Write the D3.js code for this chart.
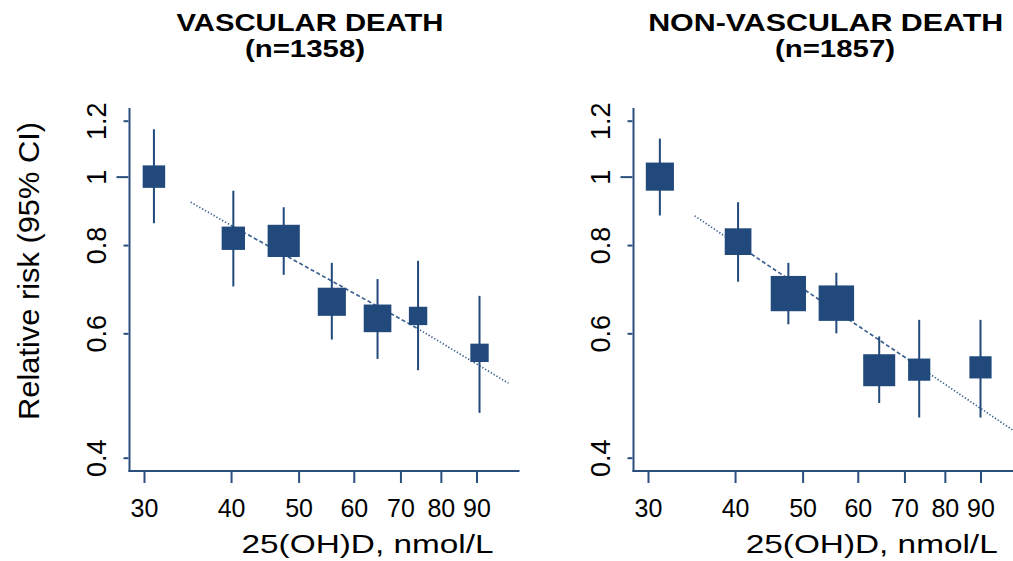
<!DOCTYPE html>
<html>
<head>
<meta charset="utf-8">
<script src="https://cdn.jsdelivr.net/npm/d3@7"></script>
<style>
  body { margin: 0; background: #fff; }
  svg { display: block; }
</style>
</head>
<body>
<div id="chart"></div>
<script>
// 25(OH)D groups vs relative risk, two panels
const xTicks = [30, 40, 50, 60, 70, 80, 90];
const yTicks = [0.4, 0.6, 0.8, 1, 1.2];

// vascular death
const vascDose = [31, 40.3, 47.6, 55.8, 64.9, 74.2, 90.9];
const vascRR = [1.0, 0.818, 0.811, 0.665, 0.630, 0.635, 0.563];
const vascLo = [0.859, 0.699, 0.726, 0.588, 0.552, 0.532, 0.463];
const vascHi = [1.167, 0.955, 0.905, 0.755, 0.716, 0.760, 0.678];
const vascWeight = [39, 42, 80, 61, 59, 26, 26];
const vascTrendX = [35, 40, 74, 100];
const vascTrendY = [0.92, 0.853, 0.61, 0.51];

// non-vascular death
const nonvDose = [31.2, 40.4, 47.7, 55.9, 64.4, 73.5, 90];
const nonvRR = [1.0, 0.809, 0.683, 0.662, 0.532, 0.533, 0.537];
const nonvLo = [0.881, 0.710, 0.618, 0.600, 0.478, 0.456, 0.456];
const nonvHi = [1.132, 0.920, 0.755, 0.731, 0.594, 0.627, 0.627];
const nonvWeight = [61, 55, 96, 97, 79, 38, 38];
const nonvTrendX = [35, 40, 76, 100];
const nonvTrendY = [0.88, 0.805, 0.526, 0.438];

const width = 1013;
const height = 561;
const blue = "#21497c";
const axisBlue = "#2a4e7d";
const tickFont = "'Liberation Sans', Arial, sans-serif";

const svg = d3.select("#chart")
  .append("svg")
  .attr("width", width)
  .attr("height", height);

const yScale = d3.scaleLog().domain([0.4, 1.2]).range([457.7, 120.7]);
const sizeScale = d3.scaleSqrt().domain([0, 100]).range([0, 36]);
const axisY = 471;

function drawPanel(p) {
  const x0 = p.x0;
  const xScale = d3.scaleLog().domain([30, 90]).range([x0 + 14.5, x0 + 347]);
  const g = svg.append("g");

  // axis lines
  g.append("line")
    .attr("x1", x0).attr("x2", x0)
    .attr("y1", 108).attr("y2", axisY + 1)
    .attr("stroke", axisBlue).attr("stroke-width", 2);
  g.append("line")
    .attr("x1", x0 - 1).attr("x2", x0 + 390)
    .attr("y1", axisY).attr("y2", axisY)
    .attr("stroke", axisBlue).attr("stroke-width", 2);

  // x axis ticks
  const xAxis = d3.axisBottom(xScale)
    .tickValues(xTicks)
    .tickFormat(d3.format("d"))
    .tickSize(11);
  const gx = g.append("g")
    .attr("transform", `translate(0, ${axisY + 1})`)
    .call(xAxis);
  gx.select(".domain").remove();
  gx.selectAll(".tick line").attr("stroke", axisBlue).attr("stroke-width", 2);
  gx.selectAll(".tick text")
    .attr("y", 44.7)
    .attr("dy", 0)
    .attr("fill", "#000")
    .style("font-family", tickFont)
    .style("font-size", "25px");

  // y axis ticks
  const yAxis = d3.axisLeft(yScale)
    .tickValues(yTicks)
    .tickFormat(d => d)
    .tickSize(5);
  const gy = g.append("g")
    .attr("transform", `translate(${x0 - 1}, 0)`)
    .call(yAxis);
  gy.select(".domain").remove();
  gy.selectAll(".tick line")
    .attr("x2", d => d === 1 ? -12 : -5)
    .attr("stroke", axisBlue).attr("stroke-width", 2);
  gy.selectAll(".tick text")
    .attr("x", 0).attr("y", 0).attr("dy", 0)
    .attr("transform", "translate(-22.5, 0) rotate(-90)")
    .attr("text-anchor", "middle")
    .attr("fill", "#000")
    .style("font-family", tickFont)
    .style("font-size", "27px");

  // trend line: dotted ends, dashed middle
  const trend = p.trendX.map((d, i) => ({ x: d, y: p.trendY[i] }));
  const line = d3.line().x(d => xScale(d.x)).y(d => yScale(d.y));
  const parts = [
    { pts: trend.slice(0, 2), dash: "1.3,2" },
    { pts: trend.slice(1, 3), dash: "4,2.5" },
    { pts: trend.slice(2, 4), dash: "1.3,2" }
  ];
  g.selectAll(".trend")
    .data(parts)
    .join("path")
    .attr("class", "trend")
    .attr("d", d => line(d.pts))
    .attr("fill", "none")
    .attr("stroke", "#3c6090")
    .attr("stroke-width", 1.7)
    .attr("stroke-dasharray", d => d.dash);

  const rows = p.dose.map((d, i) => ({
    x: d, rr: p.rr[i], lo: p.lo[i], hi: p.hi[i], w: p.weight[i]
  }));

  // confidence intervals
  g.selectAll(".ci")
    .data(rows)
    .join("line")
    .attr("class", "ci")
    .attr("x1", d => xScale(d.x)).attr("x2", d => xScale(d.x))
    .attr("y1", d => yScale(d.hi)).attr("y2", d => yScale(d.lo))
    .attr("stroke", blue)
    .attr("stroke-width", 2);

  // boxes sized by weight
  g.selectAll(".box")
    .data(rows)
    .join("rect")
    .attr("class", "box")
    .attr("x", d => xScale(d.x) - sizeScale(d.w) / 2)
    .attr("y", d => yScale(d.rr) - sizeScale(d.w) / 2)
    .attr("width", d => sizeScale(d.w))
    .attr("height", d => sizeScale(d.w))
    .attr("fill", blue);

  // two-line title
  [[p.title, p.t1x, 31, p.t1w], [p.sub, p.t2x, 57, 120]].forEach(([txt, x, y, w]) => {
    g.append("text")
      .attr("x", x).attr("y", y)
      .attr("text-anchor", "middle")
      .attr("textLength", w)
      .attr("lengthAdjust", "spacingAndGlyphs")
      .style("font-family", tickFont)
      .style("font-weight", 700)
      .style("font-size", "23px")
      .text(txt);
  });

  // x axis title
  g.append("text")
    .attr("x", p.xtx).attr("y", 553)
    .attr("text-anchor", "middle")
    .attr("textLength", 252)
    .attr("lengthAdjust", "spacingAndGlyphs")
    .style("font-family", tickFont)
    .style("font-size", "26px")
    .text("25(OH)D, nmol/L");
}

drawPanel({
  x0: 129.5, title: "VASCULAR DEATH", sub: "(n=1358)",
  t1x: 310, t1w: 267, t2x: 305, xtx: 367.5,
  dose: vascDose, rr: vascRR, lo: vascLo, hi: vascHi, weight: vascWeight,
  trendX: vascTrendX, trendY: vascTrendY
});

drawPanel({
  x0: 633.5, title: "NON-VASCULAR DEATH", sub: "(n=1857)",
  t1x: 825.7, t1w: 355, t2x: 835, xtx: 871.7,
  dose: nonvDose, rr: nonvRR, lo: nonvLo, hi: nonvHi, weight: nonvWeight,
  trendX: nonvTrendX, trendY: nonvTrendY
});

// shared y axis title
svg.append("text")
  .attr("transform", "translate(39, 271) rotate(-90)")
  .attr("text-anchor", "middle")
  .attr("textLength", 298)
  .attr("lengthAdjust", "spacingAndGlyphs")
  .style("font-family", tickFont)
  .style("font-size", "30px")
  .text("Relative risk (95% CI)");
</script>
</body>
</html>
